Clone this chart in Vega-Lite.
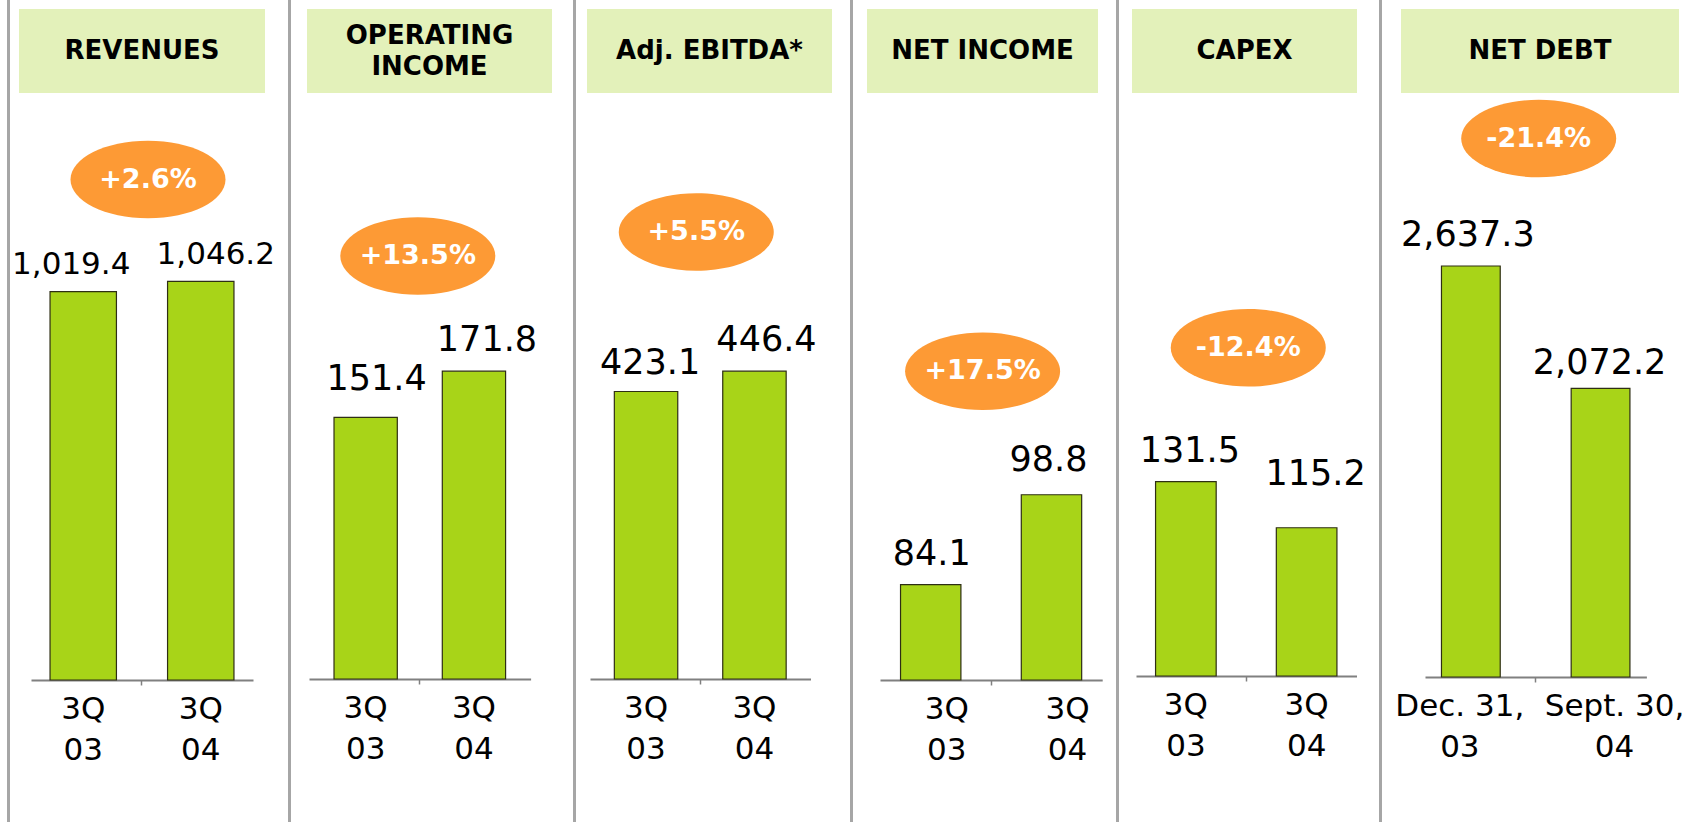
{
  "$schema": "https://vega.github.io/schema/vega-lite/v6.json",
  "background": "white",
  "padding": {"left": 7, "top": 0, "right": 0, "bottom": 0},
  "config": {"view": {"stroke": null}, "font": "DejaVu Sans"},
  "datasets": {
    "bars": [
      {"panel": 1, "year": 2003, "period": "3Q\n03", "value": 1019.4},
      {"panel": 1, "year": 2004, "period": "3Q\n04", "value": 1046.2},
      {"panel": 2, "year": 2003, "period": "3Q\n03", "value": 151.4},
      {"panel": 2, "year": 2004, "period": "3Q\n04", "value": 171.8},
      {"panel": 3, "year": 2003, "period": "3Q\n03", "value": 423.1},
      {"panel": 3, "year": 2004, "period": "3Q\n04", "value": 446.4},
      {"panel": 4, "year": 2003, "period": "3Q\n03", "value": 84.1},
      {"panel": 4, "year": 2004, "period": "3Q\n04", "value": 98.8},
      {"panel": 5, "year": 2003, "period": "3Q\n03", "value": 131.5},
      {"panel": 5, "year": 2004, "period": "3Q\n04", "value": 115.2},
      {"panel": 6, "year": 2003, "period": "Dec. 31,\n03", "value": 2637.3},
      {"panel": 6, "year": 2004, "period": "Sept. 30,\n04", "value": 2072.2}
    ],
    "headers": [
      {"panel": 1, "title": "REVENUES", "change": "+2.6%"},
      {"panel": 2, "title": "OPERATING\nINCOME", "change": "+13.5%"},
      {"panel": 3, "title": "Adj. EBITDA*", "change": "+5.5%"},
      {"panel": 4, "title": "NET INCOME", "change": "+17.5%"},
      {"panel": 5, "title": "CAPEX", "change": "-12.4%"},
      {"panel": 6, "title": "NET DEBT", "change": "-21.4%"}
    ],
    "none": []
  },
  "spacing": 0,
  "hconcat": [
    {"width": 3, "height": 822, "view": {"fill": "#a6a6a6", "stroke": null}, "data": {"name": "none"}, "mark": "point"},
    {"spacing": 0, "vconcat": [
      {"width": 1, "height": 9, "data": {"name": "none"}, "mark": "point"},
      {"spacing": 0, "bounds": "flush", "hconcat": [
        {"width": 9, "height": 84, "data": {"name": "none"}, "mark": "point"},
        {"width": 246, "height": 84, "view": {"fill": "#e3f1ba", "stroke": null}, "data": {"name": "headers"}, "transform": [{"filter": "datum.panel === 1"}],
         "mark": {"type": "text", "fontWeight": "bold", "fontSize": 26, "lineBreak": "\n", "lineHeight": 31, "baseline": "middle", "align": "center", "color": "#000000"},
         "encoding": {"text": {"field": "title"}}},
        {"width": 22.2, "height": 84, "data": {"name": "none"}, "mark": "point"}
      ]},
      {"spacing": 0, "bounds": "flush", "hconcat": [
        {"width": 21, "height": 1, "data": {"name": "none"}, "mark": "point"},
        {"width": 222, "height": 587,
         "layer": [
          {"data": {"name": "bars"}, "transform": [{"filter": "datum.panel === 1"}],
           "mark": {"type": "bar", "fill": "#a8d418", "stroke": "#2e2e14", "strokeWidth": 1.2},
           "encoding": {
             "x": {"field": "period", "type": "nominal", "sort": null, "scale": {"paddingInner": 0.435, "paddingOuter": 0.162},
                   "axis": {"labels": false, "title": null, "values": ["3Q\n04"], "bandPosition": -0.385, "domainColor": "#808080", "domainWidth": 2, "tickColor": "#808080", "tickSize": 5, "tickWidth": 1.5, "grid": false}},
             "y": {"field": "value", "type": "quantitative", "scale": {"domain": [0, 1540.7], "nice": false, "zero": false}, "axis": null},
             "y2": {"datum": 0}}},
          {"data": {"name": "bars"}, "transform": [{"filter": "datum.panel === 1 && datum.year === 2003"}],
           "mark": {"type": "text", "fontSize": 31, "baseline": "alphabetic", "dx": -12, "dy": -18, "color": "#000000"},
           "encoding": {"x": {"field": "period", "type": "nominal", "sort": null}, "y": {"field": "value", "type": "quantitative"}, "text": {"field": "value", "type": "quantitative", "format": ",.1f"}}},
          {"data": {"name": "bars"}, "transform": [{"filter": "datum.panel === 1 && datum.year === 2004"}],
           "mark": {"type": "text", "fontSize": 31, "baseline": "alphabetic", "dx": 15, "dy": -17, "color": "#000000"},
           "encoding": {"x": {"field": "period", "type": "nominal", "sort": null}, "y": {"field": "value", "type": "quantitative"}, "text": {"field": "value", "type": "quantitative", "format": ",.1f"}}},
          {"data": {"name": "bars"}, "transform": [{"filter": "datum.panel === 1"}],
           "mark": {"type": "text", "fontSize": 31, "baseline": "top", "dy": 15, "lineBreak": "\n", "lineHeight": 41, "color": "#000000"},
           "encoding": {"x": {"field": "period", "type": "nominal", "sort": null}, "y": {"datum": 0}, "text": {"field": "period"}}},
          {"data": {"name": "headers"}, "transform": [{"filter": "datum.panel === 1"}],
           "mark": {"type": "point", "shape": "M -1 0 C -1 -0.276 -0.552 -0.5 0 -0.5 C 0.552 -0.5 1 -0.276 1 0 C 1 0.276 0.552 0.5 0 0.5 C -0.552 0.5 -1 0.276 -1 0 Z", "size": 24025, "filled": true, "fill": "#fd9a35", "opacity": 1, "strokeWidth": 0, "xOffset": 6},
           "encoding": {"y": {"datum": 1313.6}}},
          {"data": {"name": "headers"}, "transform": [{"filter": "datum.panel === 1"}],
           "mark": {"type": "text", "fontSize": 27, "fontWeight": "bold", "color": "#ffffff", "baseline": "middle", "align": "center", "xOffset": 6},
           "encoding": {"y": {"datum": 1313.6}, "text": {"field": "change"}}}
         ]},
        {"width": 34.2, "height": 1, "data": {"name": "none"}, "mark": "point"}
      ]}
    ]},
    {"width": 3, "height": 822, "view": {"fill": "#a6a6a6", "stroke": null}, "data": {"name": "none"}, "mark": "point"},
    {"spacing": 0, "vconcat": [
      {"width": 1, "height": 9, "data": {"name": "none"}, "mark": "point"},
      {"spacing": 0, "bounds": "flush", "hconcat": [
        {"width": 15.8, "height": 84, "data": {"name": "none"}, "mark": "point"},
        {"width": 245, "height": 84, "view": {"fill": "#e3f1ba", "stroke": null}, "data": {"name": "headers"}, "transform": [{"filter": "datum.panel === 2"}],
         "mark": {"type": "text", "fontWeight": "bold", "fontSize": 26, "lineBreak": "\n", "lineHeight": 31, "baseline": "middle", "align": "center", "dy": -15.5, "color": "#000000"},
         "encoding": {"text": {"field": "title"}}},
        {"width": 20, "height": 84, "data": {"name": "none"}, "mark": "point"}
      ]},
      {"spacing": 0, "bounds": "flush", "hconcat": [
        {"width": 17.8, "height": 1, "data": {"name": "none"}, "mark": "point"},
        {"width": 221.6, "height": 586,
         "layer": [
          {"data": {"name": "bars"}, "transform": [{"filter": "datum.panel === 2"}],
           "mark": {"type": "bar", "fill": "#a8d418", "stroke": "#2e2e14", "strokeWidth": 1.2},
           "encoding": {
             "x": {"field": "period", "type": "nominal", "sort": null, "scale": {"paddingInner": 0.4155, "paddingOuter": 0.231},
                   "axis": {"labels": false, "title": null, "values": ["3Q\n04"], "bandPosition": -0.3555, "domainColor": "#808080", "domainWidth": 2, "tickColor": "#808080", "tickSize": 5, "tickWidth": 1.5, "grid": false}},
             "y": {"field": "value", "type": "quantitative", "scale": {"domain": [35.5, 295], "nice": false, "zero": false}, "axis": null},
             "y2": {"datum": 35.5}}},
          {"data": {"name": "bars"}, "transform": [{"filter": "datum.panel === 2 && datum.year === 2003"}],
           "mark": {"type": "text", "fontSize": 35, "baseline": "alphabetic", "dx": 11, "dy": -27, "color": "#000000"},
           "encoding": {"x": {"field": "period", "type": "nominal", "sort": null}, "y": {"field": "value", "type": "quantitative"}, "text": {"field": "value", "type": "quantitative", "format": ",.1f"}}},
          {"data": {"name": "bars"}, "transform": [{"filter": "datum.panel === 2 && datum.year === 2004"}],
           "mark": {"type": "text", "fontSize": 35, "baseline": "alphabetic", "dx": 13, "dy": -20, "color": "#000000"},
           "encoding": {"x": {"field": "period", "type": "nominal", "sort": null}, "y": {"field": "value", "type": "quantitative"}, "text": {"field": "value", "type": "quantitative", "format": ",.1f"}}},
          {"data": {"name": "bars"}, "transform": [{"filter": "datum.panel === 2"}],
           "mark": {"type": "text", "fontSize": 31, "baseline": "top", "dy": 15, "lineBreak": "\n", "lineHeight": 41, "color": "#000000"},
           "encoding": {"x": {"field": "period", "type": "nominal", "sort": null}, "y": {"datum": 35.5}, "text": {"field": "period"}}},
          {"data": {"name": "headers"}, "transform": [{"filter": "datum.panel === 2"}],
           "mark": {"type": "point", "shape": "M -1 0 C -1 -0.276 -0.552 -0.5 0 -0.5 C 0.552 -0.5 1 -0.276 1 0 C 1 0.276 0.552 0.5 0 0.5 C -0.552 0.5 -1 0.276 -1 0 Z", "size": 24025, "filled": true, "fill": "#fd9a35", "opacity": 1, "strokeWidth": 0, "xOffset": -2},
           "encoding": {"y": {"datum": 222.8}}},
          {"data": {"name": "headers"}, "transform": [{"filter": "datum.panel === 2"}],
           "mark": {"type": "text", "fontSize": 27, "fontWeight": "bold", "color": "#ffffff", "baseline": "middle", "align": "center", "xOffset": -2},
           "encoding": {"y": {"datum": 222.8}, "text": {"field": "change"}}}
         ]},
        {"width": 41.4, "height": 1, "data": {"name": "none"}, "mark": "point"}
      ]}
    ]},
    {"width": 3, "height": 822, "view": {"fill": "#a6a6a6", "stroke": null}, "data": {"name": "none"}, "mark": "point"},
    {"spacing": 0, "vconcat": [
      {"width": 1, "height": 9, "data": {"name": "none"}, "mark": "point"},
      {"spacing": 0, "bounds": "flush", "hconcat": [
        {"width": 11, "height": 84, "data": {"name": "none"}, "mark": "point"},
        {"width": 245, "height": 84, "view": {"fill": "#e3f1ba", "stroke": null}, "data": {"name": "headers"}, "transform": [{"filter": "datum.panel === 3"}],
         "mark": {"type": "text", "fontWeight": "bold", "fontSize": 26, "lineBreak": "\n", "lineHeight": 31, "baseline": "middle", "align": "center", "color": "#000000"},
         "encoding": {"text": {"field": "title"}}},
        {"width": 16.5, "height": 84, "data": {"name": "none"}, "mark": "point"}
      ]},
      {"spacing": 0, "bounds": "flush", "hconcat": [
        {"width": 13.5, "height": 1, "data": {"name": "none"}, "mark": "point"},
        {"width": 220.5, "height": 586,
         "layer": [
          {"data": {"name": "bars"}, "transform": [{"filter": "datum.panel === 3"}],
           "mark": {"type": "bar", "fill": "#a8d418", "stroke": "#2e2e14", "strokeWidth": 1.2},
           "encoding": {
             "x": {"field": "period", "type": "nominal", "sort": null, "scale": {"paddingInner": 0.415, "paddingOuter": 0.2245},
                   "axis": {"labels": false, "title": null, "values": ["3Q\n04"], "bandPosition": -0.355, "domainColor": "#808080", "domainWidth": 2, "tickColor": "#808080", "tickSize": 5, "tickWidth": 1.5, "grid": false}},
             "y": {"field": "value", "type": "quantitative", "scale": {"domain": [93.1, 765.7], "nice": false, "zero": false}, "axis": null},
             "y2": {"datum": 93.1}}},
          {"data": {"name": "bars"}, "transform": [{"filter": "datum.panel === 3 && datum.year === 2003"}],
           "mark": {"type": "text", "fontSize": 35, "baseline": "alphabetic", "dx": 4, "dy": -17, "color": "#000000"},
           "encoding": {"x": {"field": "period", "type": "nominal", "sort": null}, "y": {"field": "value", "type": "quantitative"}, "text": {"field": "value", "type": "quantitative", "format": ",.1f"}}},
          {"data": {"name": "bars"}, "transform": [{"filter": "datum.panel === 3 && datum.year === 2004"}],
           "mark": {"type": "text", "fontSize": 35, "baseline": "alphabetic", "dx": 12, "dy": -20, "color": "#000000"},
           "encoding": {"x": {"field": "period", "type": "nominal", "sort": null}, "y": {"field": "value", "type": "quantitative"}, "text": {"field": "value", "type": "quantitative", "format": ",.1f"}}},
          {"data": {"name": "bars"}, "transform": [{"filter": "datum.panel === 3"}],
           "mark": {"type": "text", "fontSize": 31, "baseline": "top", "dy": 15, "lineBreak": "\n", "lineHeight": 41, "color": "#000000"},
           "encoding": {"x": {"field": "period", "type": "nominal", "sort": null}, "y": {"datum": 93.1}, "text": {"field": "period"}}},
          {"data": {"name": "headers"}, "transform": [{"filter": "datum.panel === 3"}],
           "mark": {"type": "point", "shape": "M -1 0 C -1 -0.276 -0.552 -0.5 0 -0.5 C 0.552 -0.5 1 -0.276 1 0 C 1 0.276 0.552 0.5 0 0.5 C -0.552 0.5 -1 0.276 -1 0 Z", "size": 24025, "filled": true, "fill": "#fd9a35", "opacity": 1, "strokeWidth": 0, "xOffset": -4},
           "encoding": {"y": {"datum": 606.2}}},
          {"data": {"name": "headers"}, "transform": [{"filter": "datum.panel === 3"}],
           "mark": {"type": "text", "fontSize": 27, "fontWeight": "bold", "color": "#ffffff", "baseline": "middle", "align": "center", "xOffset": -4},
           "encoding": {"y": {"datum": 606.2}, "text": {"field": "change"}}}
         ]},
        {"width": 38.5, "height": 1, "data": {"name": "none"}, "mark": "point"}
      ]}
    ]},
    {"width": 3, "height": 822, "view": {"fill": "#a6a6a6", "stroke": null}, "data": {"name": "none"}, "mark": "point"},
    {"spacing": 0, "vconcat": [
      {"width": 1, "height": 9, "data": {"name": "none"}, "mark": "point"},
      {"spacing": 0, "bounds": "flush", "hconcat": [
        {"width": 13.5, "height": 84, "data": {"name": "none"}, "mark": "point"},
        {"width": 231, "height": 84, "view": {"fill": "#e3f1ba", "stroke": null}, "data": {"name": "headers"}, "transform": [{"filter": "datum.panel === 4"}],
         "mark": {"type": "text", "fontWeight": "bold", "fontSize": 26, "lineBreak": "\n", "lineHeight": 31, "baseline": "middle", "align": "center", "color": "#000000"},
         "encoding": {"text": {"field": "title"}}},
        {"width": 17.5, "height": 84, "data": {"name": "none"}, "mark": "point"}
      ]},
      {"spacing": 0, "bounds": "flush", "hconcat": [
        {"width": 26.9, "height": 1, "data": {"name": "none"}, "mark": "point"},
        {"width": 222.2, "height": 587,
         "layer": [
          {"data": {"name": "bars"}, "transform": [{"filter": "datum.panel === 4"}],
           "mark": {"type": "bar", "fill": "#a8d418", "stroke": "#2e2e14", "strokeWidth": 1.2},
           "encoding": {
             "x": {"field": "period", "type": "nominal", "sort": null, "scale": {"paddingInner": 0.5, "paddingOuter": 0.17},
                   "axis": {"labels": false, "title": null, "values": ["3Q\n04"], "bandPosition": -0.5, "domainColor": "#808080", "domainWidth": 2, "tickColor": "#808080", "tickSize": 5, "tickWidth": 1.5, "grid": false}},
             "y": {"field": "value", "type": "quantitative", "scale": {"domain": [68.5, 164.5], "nice": false, "zero": false}, "axis": null},
             "y2": {"datum": 68.5}}},
          {"data": {"name": "bars"}, "transform": [{"filter": "datum.panel === 4 && datum.year === 2003"}],
           "mark": {"type": "text", "fontSize": 35, "baseline": "alphabetic", "dx": 1, "dy": -20, "color": "#000000"},
           "encoding": {"x": {"field": "period", "type": "nominal", "sort": null}, "y": {"field": "value", "type": "quantitative"}, "text": {"field": "value", "type": "quantitative", "format": ",.1f"}}},
          {"data": {"name": "bars"}, "transform": [{"filter": "datum.panel === 4 && datum.year === 2004"}],
           "mark": {"type": "text", "fontSize": 35, "baseline": "alphabetic", "dx": -3, "dy": -24, "color": "#000000"},
           "encoding": {"x": {"field": "period", "type": "nominal", "sort": null}, "y": {"field": "value", "type": "quantitative"}, "text": {"field": "value", "type": "quantitative", "format": ",.1f"}}},
          {"data": {"name": "bars"}, "transform": [{"filter": "datum.panel === 4"}],
           "mark": {"type": "text", "fontSize": 31, "baseline": "top", "dx": 16, "dy": 15, "lineBreak": "\n", "lineHeight": 41, "color": "#000000"},
           "encoding": {"x": {"field": "period", "type": "nominal", "sort": null}, "y": {"datum": 68.5}, "text": {"field": "period"}}},
          {"data": {"name": "headers"}, "transform": [{"filter": "datum.panel === 4"}],
           "mark": {"type": "point", "shape": "M -1 0 C -1 -0.276 -0.552 -0.5 0 -0.5 C 0.552 -0.5 1 -0.276 1 0 C 1 0.276 0.552 0.5 0 0.5 C -0.552 0.5 -1 0.276 -1 0 Z", "size": 24025, "filled": true, "fill": "#fd9a35", "opacity": 1, "strokeWidth": 0, "xOffset": -8.5},
           "encoding": {"y": {"datum": 119.0}}},
          {"data": {"name": "headers"}, "transform": [{"filter": "datum.panel === 4"}],
           "mark": {"type": "text", "fontSize": 27, "fontWeight": "bold", "color": "#ffffff", "baseline": "middle", "align": "center", "xOffset": -8.5},
           "encoding": {"y": {"datum": 119.0}, "text": {"field": "change"}}}
         ]},
        {"width": 12.9, "height": 1, "data": {"name": "none"}, "mark": "point"}
      ]}
    ]},
    {"width": 3, "height": 822, "view": {"fill": "#a6a6a6", "stroke": null}, "data": {"name": "none"}, "mark": "point"},
    {"spacing": 0, "vconcat": [
      {"width": 1, "height": 9, "data": {"name": "none"}, "mark": "point"},
      {"spacing": 0, "bounds": "flush", "hconcat": [
        {"width": 13, "height": 84, "data": {"name": "none"}, "mark": "point"},
        {"width": 225, "height": 84, "view": {"fill": "#e3f1ba", "stroke": null}, "data": {"name": "headers"}, "transform": [{"filter": "datum.panel === 5"}],
         "mark": {"type": "text", "fontWeight": "bold", "fontSize": 26, "lineBreak": "\n", "lineHeight": 31, "baseline": "middle", "align": "center", "color": "#000000"},
         "encoding": {"text": {"field": "title"}}},
        {"width": 21, "height": 84, "data": {"name": "none"}, "mark": "point"}
      ]},
      {"spacing": 0, "bounds": "flush", "hconcat": [
        {"width": 17, "height": 1, "data": {"name": "none"}, "mark": "point"},
        {"width": 220.5, "height": 583,
         "layer": [
          {"data": {"name": "bars"}, "transform": [{"filter": "datum.panel === 5"}],
           "mark": {"type": "bar", "fill": "#a8d418", "stroke": "#2e2e14", "strokeWidth": 1.2},
           "encoding": {
             "x": {"field": "period", "type": "nominal", "sort": null, "scale": {"paddingInner": 0.498, "paddingOuter": 0.162},
                   "axis": {"labels": false, "title": null, "values": ["3Q\n04"], "bandPosition": -0.496, "domainColor": "#808080", "domainWidth": 2, "tickColor": "#808080", "tickSize": 5, "tickWidth": 1.5, "grid": false}},
             "y": {"field": "value", "type": "quantitative", "scale": {"domain": [62.9, 268.6], "nice": false, "zero": false}, "axis": null},
             "y2": {"datum": 62.9}}},
          {"data": {"name": "bars"}, "transform": [{"filter": "datum.panel === 5 && datum.year === 2003"}],
           "mark": {"type": "text", "fontSize": 35, "baseline": "alphabetic", "dx": 4, "dy": -20, "color": "#000000"},
           "encoding": {"x": {"field": "period", "type": "nominal", "sort": null}, "y": {"field": "value", "type": "quantitative"}, "text": {"field": "value", "type": "quantitative", "format": ",.1f"}}},
          {"data": {"name": "bars"}, "transform": [{"filter": "datum.panel === 5 && datum.year === 2004"}],
           "mark": {"type": "text", "fontSize": 35, "baseline": "alphabetic", "dx": 9, "dy": -43, "color": "#000000"},
           "encoding": {"x": {"field": "period", "type": "nominal", "sort": null}, "y": {"field": "value", "type": "quantitative"}, "text": {"field": "value", "type": "quantitative", "format": ",.1f"}}},
          {"data": {"name": "bars"}, "transform": [{"filter": "datum.panel === 5"}],
           "mark": {"type": "text", "fontSize": 31, "baseline": "top", "dy": 15, "lineBreak": "\n", "lineHeight": 41, "color": "#000000"},
           "encoding": {"x": {"field": "period", "type": "nominal", "sort": null}, "y": {"datum": 62.9}, "text": {"field": "period"}}},
          {"data": {"name": "headers"}, "transform": [{"filter": "datum.panel === 5"}],
           "mark": {"type": "point", "shape": "M -1 0 C -1 -0.276 -0.552 -0.5 0 -0.5 C 0.552 -0.5 1 -0.276 1 0 C 1 0.276 0.552 0.5 0 0.5 C -0.552 0.5 -1 0.276 -1 0 Z", "size": 24025, "filled": true, "fill": "#fd9a35", "opacity": 1, "strokeWidth": 0, "xOffset": 2},
           "encoding": {"y": {"datum": 178.7}}},
          {"data": {"name": "headers"}, "transform": [{"filter": "datum.panel === 5"}],
           "mark": {"type": "text", "fontSize": 27, "fontWeight": "bold", "color": "#ffffff", "baseline": "middle", "align": "center", "xOffset": 2},
           "encoding": {"y": {"datum": 178.7}, "text": {"field": "change"}}}
         ]},
        {"width": 21.5, "height": 1, "data": {"name": "none"}, "mark": "point"}
      ]}
    ]},
    {"width": 3, "height": 822, "view": {"fill": "#a6a6a6", "stroke": null}, "data": {"name": "none"}, "mark": "point"},
    {"spacing": 0, "vconcat": [
      {"width": 1, "height": 9, "data": {"name": "none"}, "mark": "point"},
      {"spacing": 0, "bounds": "flush", "hconcat": [
        {"width": 18.5, "height": 84, "data": {"name": "none"}, "mark": "point"},
        {"width": 278, "height": 84, "view": {"fill": "#e3f1ba", "stroke": null}, "data": {"name": "headers"}, "transform": [{"filter": "datum.panel === 6"}],
         "mark": {"type": "text", "fontWeight": "bold", "fontSize": 26, "lineBreak": "\n", "lineHeight": 31, "baseline": "middle", "align": "center", "color": "#000000"},
         "encoding": {"text": {"field": "title"}}}
      ]},
      {"spacing": 0, "bounds": "flush", "hconcat": [
        {"width": 42.5, "height": 1, "data": {"name": "none"}, "mark": "point"},
        {"width": 221.4, "height": 584,
         "layer": [
          {"data": {"name": "bars"}, "transform": [{"filter": "datum.panel === 6"}],
           "mark": {"type": "bar", "fill": "#a8d418", "stroke": "#2e2e14", "strokeWidth": 1.2},
           "encoding": {
             "x": {"field": "period", "type": "nominal", "sort": null, "scale": {"paddingInner": 0.547, "paddingOuter": 0.127},
                   "axis": {"labels": false, "title": null, "values": ["Sept. 30,\n04"], "bandPosition": -0.604, "domainColor": "#808080", "domainWidth": 2, "tickColor": "#808080", "tickSize": 5, "tickWidth": 1.5, "grid": false}},
             "y": {"field": "value", "type": "quantitative", "scale": {"domain": [738, 3436.7], "nice": false, "zero": false}, "axis": null},
             "y2": {"datum": 738}}},
          {"data": {"name": "bars"}, "transform": [{"filter": "datum.panel === 6 && datum.year === 2003"}],
           "mark": {"type": "text", "fontSize": 35, "baseline": "alphabetic", "dx": -3, "dy": -20, "color": "#000000"},
           "encoding": {"x": {"field": "period", "type": "nominal", "sort": null}, "y": {"field": "value", "type": "quantitative"}, "text": {"field": "value", "type": "quantitative", "format": ",.1f"}}},
          {"data": {"name": "bars"}, "transform": [{"filter": "datum.panel === 6 && datum.year === 2004"}],
           "mark": {"type": "text", "fontSize": 35, "baseline": "alphabetic", "dx": -1, "dy": -14, "color": "#000000"},
           "encoding": {"x": {"field": "period", "type": "nominal", "sort": null}, "y": {"field": "value", "type": "quantitative"}, "text": {"field": "value", "type": "quantitative", "format": ",.1f"}}},
          {"data": {"name": "bars"}, "transform": [{"filter": "datum.panel === 6 && datum.year === 2003"}],
           "mark": {"type": "text", "fontSize": 31, "baseline": "top", "dx": -11, "dy": 15, "lineBreak": "\n", "lineHeight": 41, "color": "#000000"},
           "encoding": {"x": {"field": "period", "type": "nominal", "sort": null}, "y": {"datum": 738}, "text": {"field": "period"}}},
          {"data": {"name": "bars"}, "transform": [{"filter": "datum.panel === 6 && datum.year === 2004"}],
           "mark": {"type": "text", "fontSize": 31, "baseline": "top", "dx": 14, "dy": 15, "lineBreak": "\n", "lineHeight": 41, "color": "#000000"},
           "encoding": {"x": {"field": "period", "type": "nominal", "sort": null}, "y": {"datum": 738}, "text": {"field": "period"}}},
          {"data": {"name": "headers"}, "transform": [{"filter": "datum.panel === 6"}],
           "mark": {"type": "point", "shape": "M -1 0 C -1 -0.276 -0.552 -0.5 0 -0.5 C 0.552 -0.5 1 -0.276 1 0 C 1 0.276 0.552 0.5 0 0.5 C -0.552 0.5 -1 0.276 -1 0 Z", "size": 24025, "filled": true, "fill": "#fd9a35", "opacity": 1, "strokeWidth": 0, "xOffset": 3},
           "encoding": {"y": {"datum": 3226}}},
          {"data": {"name": "headers"}, "transform": [{"filter": "datum.panel === 6"}],
           "mark": {"type": "text", "fontSize": 27, "fontWeight": "bold", "color": "#ffffff", "baseline": "middle", "align": "center", "xOffset": 3},
           "encoding": {"y": {"datum": 3226}, "text": {"field": "change"}}}
         ]}
      ]}
    ]}
  ]
}
